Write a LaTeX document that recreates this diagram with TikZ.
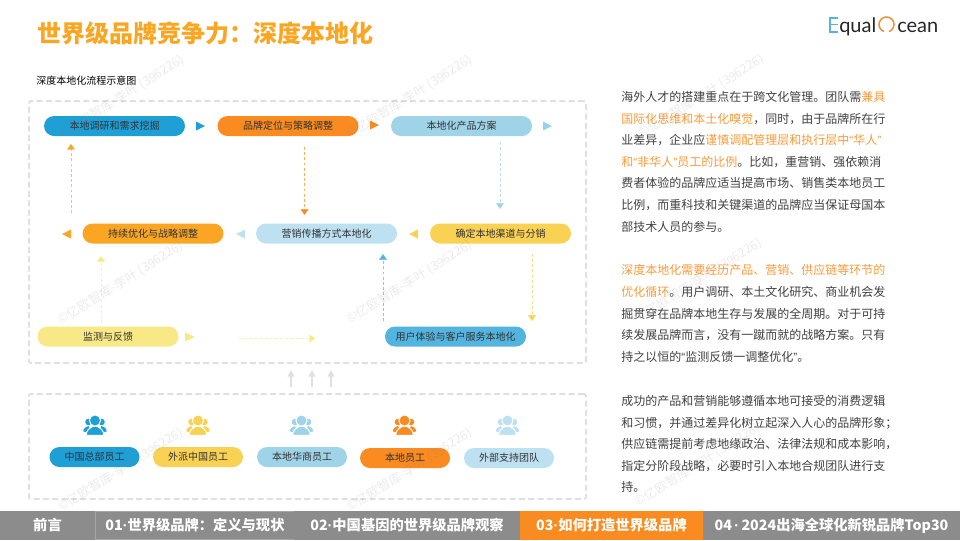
\documentclass[tikz,border=0pt]{standalone}
\usepackage{fontspec}
\setmainfont{Noto Sans CJK SC}
\newfontfamily\latinfont{Liberation Sans}
\newfontfamily\logofont{Lato}
\usepackage{xcolor}
\usetikzlibrary{calc,shapes.misc,arrows.meta}
\definecolor{cblue}{HTML}{1E9FD6}
\definecolor{cskyblue}{HTML}{53B5DF}
\definecolor{clightblue}{HTML}{9FD3E8}
\definecolor{cpaleblue}{HTML}{BEE1F1}
\definecolor{corange}{HTML}{F98B20}
\definecolor{camber}{HTML}{FAA622}
\definecolor{cyellow}{HTML}{F9D253}
\definecolor{cpaleyellow}{HTML}{F8E986}
\definecolor{cgreybox}{HTML}{E0E0E0}
\definecolor{cgreybar}{HTML}{8C8C8C}
\definecolor{ctext}{HTML}{404040}
\definecolor{chigh}{HTML}{FB9A3A}
\tikzset{
  bigpill/.style={rounded rectangle,inner sep=0pt,minimum width=105.75pt,minimum height=15pt,text=ctext!80!black,font=\fontsize{7.5}{9}\selectfont},
  staffpill/.style={bigpill,minimum width=67.5pt},
  dashbox/.style={draw=cgreybox,line width=1.5pt,dash pattern=on 4.5pt off 2.5pt,rounded corners=1.5pt,inner sep=0pt},
  flow/.style={line width=0.75pt,draw opacity=0.7,dash pattern=on 2.2pt off 1.7pt,-{Triangle[width=6pt,length=4.5pt]}},
  uparrow/.style={draw=cgreybox,line width=1.2pt,-{Triangle[width=5pt,length=5pt]}},
  para/.style={anchor=north west,inner sep=0pt,align=left,text=ctext,font=\fontsize{9}{16.2}\selectfont},
  barcell/.style={fill=cgreybar,inner sep=0pt,minimum height=21.75pt,text=white,font=\fontsize{10.7}{12}\selectfont\bfseries},
  wmark/.style={rotate=32,text=gray,opacity=0.16,inner sep=0pt,font=\fontsize{9.5}{11}\selectfont},
}
\newcommand{\hltext}[1]{\textcolor{chigh}{#1}}
\newcommand{\qopen}{{\latinfont\char"201C}}
\newcommand{\qclose}{{\latinfont\char"201D}}
\newcommand{\middot}{{\latinfont\char"B7}}
\newcommand{\zhcomma}{\char"FF0C\relax}
\newcommand{\zhcolon}{\char"FF1A\relax}
\newcommand{\zhsemi}{\char"FF1B\relax}
% three people, centred on #1,#2
\newcommand{\staffIcon}[3]{
\begin{scope}[shift={(#1,#2)}]
\fill[#3] (-6.5,-3) circle (3.3);
\fill[#3] (6.5,-3) circle (3.3);
\fill[#3] (-11.7,6.5) .. controls (-11.5,3) and (-9,1.5) .. (-6.5,1) -- (-3,8) -- cycle;
\fill[#3] (11.7,6.5) .. controls (11.5,3) and (9,1.5) .. (6.5,1) -- (3,8) -- cycle;
\draw[white,line width=0.7pt,fill=#3] (0,-4.5) circle (5.6);
\draw[white,line width=0.7pt,fill=#3] (-8.8,10.3) .. controls (-8.5,5) and (-5.5,3) .. (-2.5,1.5) -- (2.5,1.5) .. controls (5.5,3) and (8.5,5) .. (8.8,10.3) -- cycle;
\end{scope}
}
\begin{document}
\begin{tikzpicture}[x=0.75pt,y=-0.75pt]
\useasboundingbox (0,0) rectangle (960,540);
% title and logo
\node[anchor=west,inner sep=0pt,text=camber,font=\fontsize{18}{20}\selectfont\bfseries] (title) at (37,33) {世界级品牌竞争力\zhcolon 深度本地化};
\draw[cskyblue,line width=1.3pt] (838,18) -- (830,18) -- (830,32) -- (838,32);
\draw[cskyblue,line width=1.3pt] (830,24.5) -- (838,24.5);
\node[anchor=base west,inner sep=0pt,text=black!85,font=\logofont\fontsize{15}{18}\selectfont] (logoa) at (839,32) {qual};
\draw[chigh!85!gray,line width=1.2pt] (886.5,24.5) +(110:7.5) arc (110:430:7.5);
\node[anchor=base west,inner sep=0pt,text=black!85,font=\logofont\fontsize{15}{18}\selectfont] (logob) at (897,32) {cean};
\node[anchor=west,inner sep=0pt,text=black,font=\fontsize{7.5}{9}\selectfont] (caption) at (36,81) {深度本地化流程示意图};
% dashed frames
\node[dashbox,minimum width=417.75pt,minimum height=196.5pt] (upper) at (307.5,232) {};
\node[dashbox,minimum width=417.75pt,minimum height=78.75pt] (lower) at (307.5,446.5) {};
\draw[uparrow,shorten <=4.5pt,shorten >=4.5pt] ($(lower.north)+(-16.5,0)$) -- ($(upper.south)+(-16.5,0)$);
\draw[uparrow,shorten <=4.5pt,shorten >=4.5pt] ($(lower.north)+(4.5,0)$) -- ($(upper.south)+(4.5,0)$);
\draw[uparrow,shorten <=4.5pt,shorten >=4.5pt] ($(lower.north)+(23.5,0)$) -- ($(upper.south)+(23.5,0)$);
% process
\node[bigpill,fill=cblue] (research) at (114.5,126) {本地调研和需求挖掘};
\node[bigpill,fill=corange] (brand) at (288,126) {品牌定位与策略调整};
\node[bigpill,fill=clightblue] (product) at (461.5,126) {本地化产品方案};
\node[bigpill,fill=camber] (optimize) at (153,233.5) {持续优化与战略调整};
\node[bigpill,fill=cpaleblue] (marketing) at (326.5,233.5) {营销传播方式本地化};
\node[bigpill,fill=cyellow] (channel) at (500.5,233.5) {确定本地渠道与分销};
\node[bigpill,fill=cpaleyellow] (monitor) at (108,336.5) {监测与反馈};
\node[bigpill,fill=cskyblue] (experience) at (455.5,336.5) {用户体验与客户服务本地化};
\fill[cblue] (196,121.5) -- (205,126) -- (196,130.5) -- cycle;
\fill[corange] (370,120.5) -- (379,125) -- (370,129.5) -- cycle;
\fill[cskyblue!60!white] (543,121.5) -- (552,126) -- (543,130.5) -- cycle;
\fill[camber] (71,229.5) -- (62,234) -- (71,238.5) -- cycle;
\fill[cpaleblue] (245,229.5) -- (236,234) -- (245,238.5) -- cycle;
\fill[cyellow] (418,229.5) -- (409,234) -- (418,238.5) -- cycle;
\fill[cpaleyellow] (185,332.5) -- (195,337) -- (185,341.5) -- cycle;
\draw[flow,camber,shorten <=7.5pt,shorten >=5.5pt] ($(optimize.north)+(-82,0)$) -- ($(research.south)+(-43.5,0)$);
\draw[flow,corange,shorten <=8pt,shorten >=6pt] ($(brand.south)+(16.5,0)$) -- ($(marketing.north)+(-22,0)$);
\draw[flow,clightblue,shorten <=4.5pt,shorten >=10.5pt] ($(product.south)+(38.5,0)$) -- ($(channel.north)+(-0.5,0)$);
\draw[flow,cyellow,shorten <=7.5pt,shorten >=3.75pt] ($(channel.south)+(31.5,0)$) -- ($(experience.north)+(76.5,0)$);
\draw[flow,cskyblue,shorten <=3.75pt,shorten >=7.5pt] ($(experience.north)+(-72.5,0)$) -- ($(marketing.south)+(56.5,0)$);
\draw[flow,cpaleyellow,shorten <=2.25pt,shorten >=9pt] ($(monitor.north)+(-7,0)$) -- ($(optimize.south)+(-52,0)$);
\draw[flow,cpaleyellow,shorten <=45pt,shorten >=52pt] ($(monitor.east)+(0,2)$) -- ($(experience.west)+(0,2)$);
% staff
\staffIcon{95}{425}{cblue}
\staffIcon{198}{425}{cyellow}
\staffIcon{301.5}{425}{clightblue}
\staffIcon{404.5}{425}{corange}
\staffIcon{507.5}{425}{cpaleblue}
\node[staffpill,fill=cblue] (hq) at (94.5,457) {中国总部员工};
\node[staffpill,fill=cyellow] (expat) at (198,457) {外派中国员工};
\node[staffpill,fill=clightblue] (chinese) at (302,457) {本地华商员工};
\node[staffpill,fill=corange] (localstaff) at (405,458) {本地员工};
\node[staffpill,fill=cpaleblue] (support) at (509,458) {外部支持团队};
% text on the right
\node[para] (parta) at (621,91) {海外人才的搭建重点在于跨文化管理。团队需\hltext{兼具}\\
\hltext{国际化思维和本土化嗅觉}\zhcomma 同时\zhcomma 由于品牌所在行\\
业差异\zhcomma 企业应\hltext{谨慎调配管理层和执行层中\qopen 华人\qclose}\\
\hltext{和\qopen 非华人\qclose 员工的比例}。比如\zhcomma 重营销、强依赖消\\
费者体验的品牌应适当提高市场、销售类本地员工\\
比例\zhcomma 而重科技和关键渠道的品牌应当保证母国本\\
部技术人员的参与。};
\node[para] (partb) at (621,264.5) {\hltext{深度本地化需要经历产品、营销、供应链等环节的}\\
\hltext{优化循环}。用户调研、本土文化研究、商业机会发\\
掘贯穿在品牌本地生存与发展的全周期。对于可持\\
续发展品牌而言\zhcomma 没有一蹴而就的战略方案。只有\\
持之以恒的\qopen 监测反馈一调整优化\qclose 。};
\node[para] (partc) at (621,395) {成功的产品和营销能够遵循本地可接受的消费逻辑\\
和习惯\zhcomma 并通过差异化树立起深入人心的品牌形象\zhsemi\\
供应链需提前考虑地缘政治、法律法规和成本影响\zhcomma\\
指定分阶段战略\zhcomma 必要时引入本地合规团队进行支\\
持。};
% bottom bar
\node[barcell,minimum width=71.25pt] (nava) at (47.5,525.5) {前言};
\node[barcell,minimum width=149pt,draw=gray!70,line width=0.5pt,minimum height=21.25pt] (navb) at (195,525.5) {01\middot 世界级品牌\zhcolon 定义与现状};
\node[barcell,minimum width=169.5pt] (navc) at (407,525.5) {02\middot 中国基因的世界级品牌观察};
\node[barcell,fill=corange,minimum width=137.25pt] (navd) at (611.5,525.5) {03\middot 如何打造世界级品牌};
\node[barcell,minimum width=192.75pt] (nave) at (831.5,525.5) {04\,\middot\,2024出海全球化新锐品牌Top30};
% watermarks
\node[wmark] (wma) at (122,97) {©亿欧智库-李叶 (396226)};
\node[wmark] (wmb) at (410,97) {©亿欧智库-李叶 (396226)};
\node[wmark] (wmc) at (702,96) {©亿欧智库-李叶 (396226)};
\node[wmark] (wmd) at (121,283) {©亿欧智库-李叶 (396226)};
\node[wmark] (wme) at (410,282) {©亿欧智库-李叶 (396226)};
\node[wmark] (wmf) at (700,280) {©亿欧智库-李叶 (396226)};
\node[wmark] (wmg) at (121,470) {©亿欧智库-李叶 (396226)};
\node[wmark] (wmh) at (410,470) {©亿欧智库-李叶 (396226)};
\node[wmark] (wmi) at (698,465) {©亿欧智库-李叶 (396226)};
\end{tikzpicture}
\end{document}
